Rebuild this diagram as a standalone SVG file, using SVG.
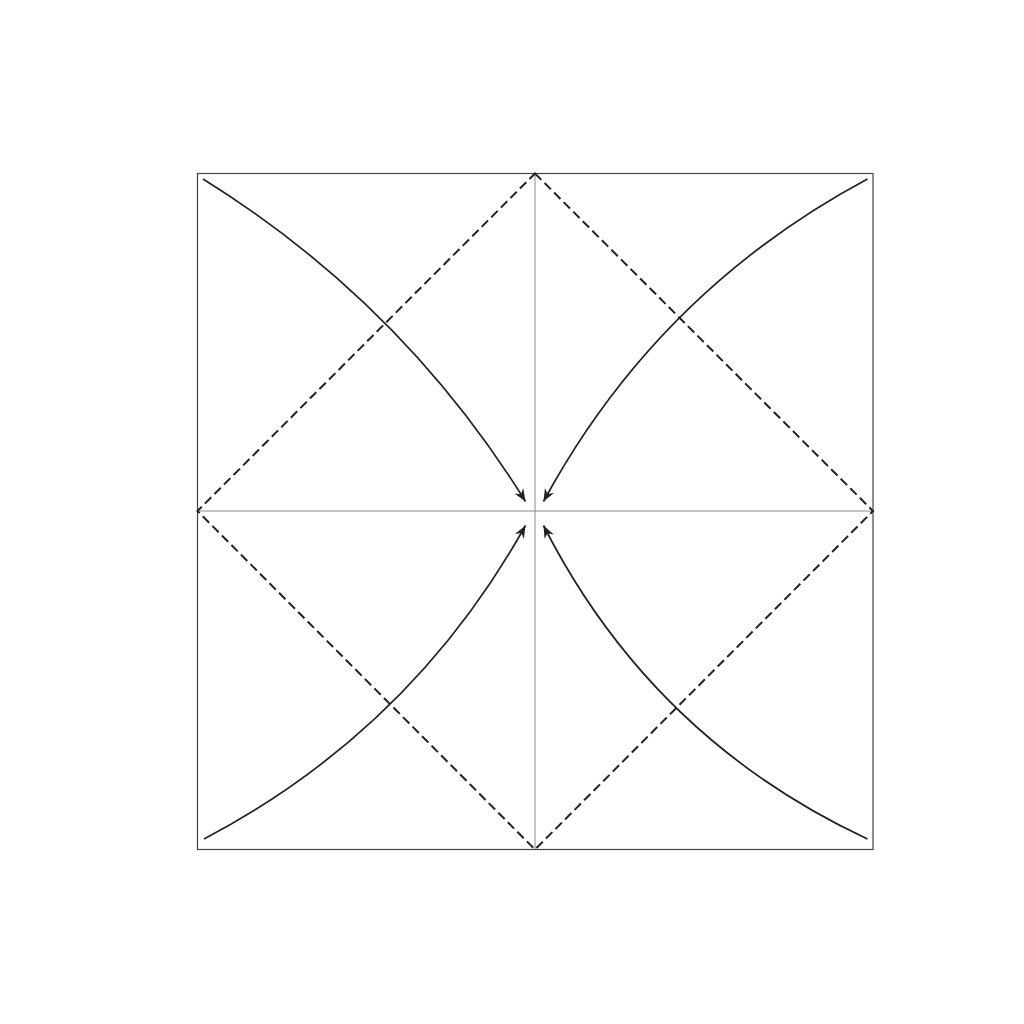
<svg xmlns="http://www.w3.org/2000/svg" width="1024" height="1024" viewBox="0 0 1024 1024">
<style>
.crease{stroke:#8a8a8a;stroke-width:1;fill:none}
.edge{stroke:#444;stroke-width:1.2;fill:none}
.valley{stroke:#222;stroke-width:2;fill:none;stroke-dasharray:9 4.5}
.arrow{stroke:#222;stroke-width:1.7;fill:none;marker-end:url(#ah)}
</style>
<defs>
<marker id="ah" markerUnits="userSpaceOnUse" markerWidth="16" markerHeight="16" viewBox="-12 -6 14 12" refX="0" refY="0" orient="auto">
<path d="M0,0 L-11,-4.5 L-7.5,0 L-11,4.5 Z" fill="#222"/>
</marker>
</defs>
<rect width="1024" height="1024" fill="#fff"/>
<g id="paper">
<line class="crease" x1="535" y1="173.5" x2="535" y2="849.5"/>
<line class="crease" x1="197.5" y1="511" x2="873" y2="511"/>
<rect class="edge" x="197.5" y="173.5" width="675.5" height="676"/>
</g>
<g id="valley-folds">
<path class="valley" d="M535,173.5 L873,511 L535,849.5 L197.5,511 Z"/>
</g>
<g id="connectors">
<path class="arrow" d="M203,179 Q402,302.5 525.5,501.5"/>
<path class="arrow" d="M867.5,179 Q657,291.7 543.5,501.5"/>
<path class="arrow" d="M204,839 Q411.4,730 525.5,525.5"/>
<path class="arrow" d="M867.5,839 Q651.5,738 543.5,525.5"/>
</g>
</svg>
